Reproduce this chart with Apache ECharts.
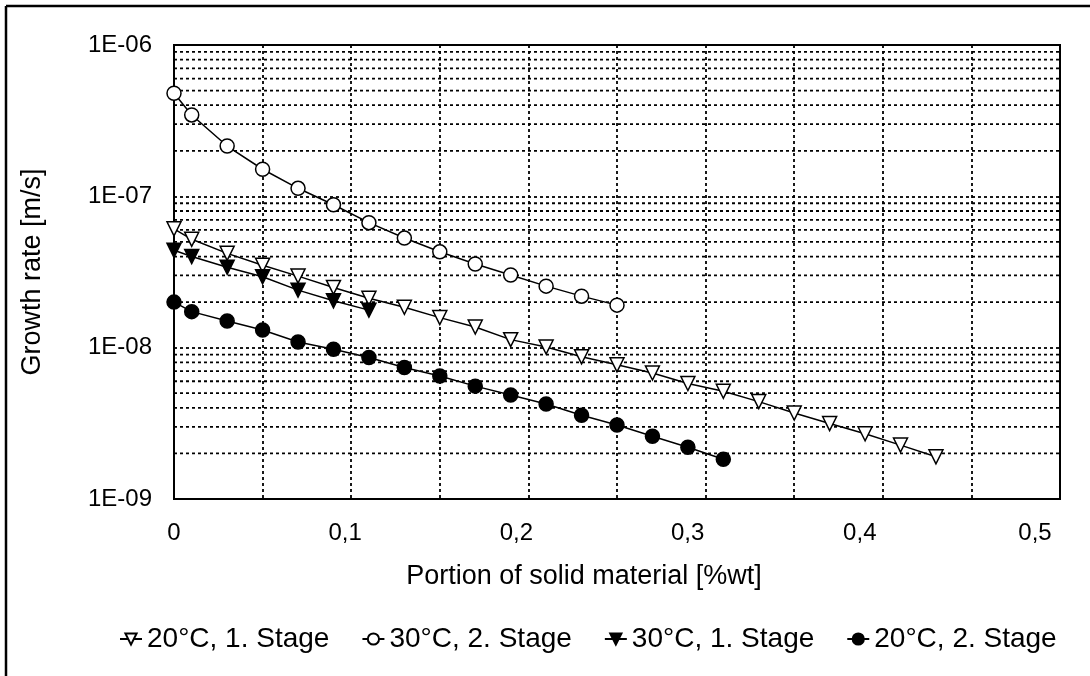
<!DOCTYPE html>
<html>
<head>
<meta charset="UTF-8">
<title>Growth rate</title>
<script src="https://cdn.jsdelivr.net/npm/echarts@6/dist/echarts.min.js"></script>
<style>
  html, body { margin: 0; padding: 0; background: #fff; }
</style>
</head>
<body>
<div id="chart" style="width: 1090px; height: 676px"></div>
<script>
    // portion of solid material [%wt]
    var xStage1_20 = [0, 0.01, 0.03, 0.05, 0.07, 0.09, 0.11, 0.13, 0.15, 0.17, 0.19, 0.21, 0.23, 0.25, 0.27, 0.29, 0.31, 0.33, 0.35, 0.37, 0.39, 0.41, 0.43];
    var yStage1_20 = [6.1e-8, 5.2e-8, 4.2e-8, 3.5e-8, 2.97e-8, 2.5e-8, 2.12e-8, 1.85e-8, 1.58e-8, 1.37e-8, 1.13e-8, 1.01e-8, 8.7e-9, 7.7e-9, 6.8e-9, 5.8e-9, 5.15e-9, 4.4e-9, 3.7e-9, 3.15e-9, 2.7e-9, 2.27e-9, 1.9e-9];

    var xStage2_30 = [0, 0.01, 0.03, 0.05, 0.07, 0.09, 0.11, 0.13, 0.15, 0.17, 0.19, 0.21, 0.23, 0.25];
    var yStage2_30 = [4.8e-7, 3.45e-7, 2.15e-7, 1.51e-7, 1.13e-7, 8.8e-8, 6.7e-8, 5.3e-8, 4.3e-8, 3.57e-8, 3.02e-8, 2.55e-8, 2.19e-8, 1.91e-8];

    var xStage1_30 = [0, 0.01, 0.03, 0.05, 0.07, 0.09, 0.11];
    var yStage1_30 = [4.4e-8, 4.0e-8, 3.4e-8, 2.94e-8, 2.4e-8, 2.04e-8, 1.77e-8];

    var xStage2_20 = [0, 0.01, 0.03, 0.05, 0.07, 0.09, 0.11, 0.13, 0.15, 0.17, 0.19, 0.21, 0.23, 0.25, 0.27, 0.29, 0.31];
    var yStage2_20 = [2.0e-8, 1.73e-8, 1.5e-8, 1.31e-8, 1.09e-8, 9.75e-9, 8.6e-9, 7.4e-9, 6.5e-9, 5.57e-9, 4.86e-9, 4.24e-9, 3.58e-9, 3.08e-9, 2.6e-9, 2.2e-9, 1.83e-9];

    var seriesNames = ['20°C, 1. Stage', '30°C, 2. Stage', '30°C, 1. Stage', '20°C, 2. Stage'];
    var xTickLabels = ['0', '0,1', '0,2', '0,3', '0,4', '0,5'];
    var yTickLabels = ['1E-09', '1E-08', '1E-07', '1E-06'];
    var decades = [1e-9, 1e-8, 1e-7];
    var minorSteps = [2, 3, 4, 5, 6, 7, 8, 9];
    var xRange = [0, 0.5];

    function pairs(xs, ys) {
        return xs.map(function (x, i) { return [x, ys[i]]; });
    }

    // minor log gridlines, one broken line across the plot per value
    var minorGrid = [];
    decades.forEach(function (d) {
        minorSteps.forEach(function (m) {
            minorGrid.push([xRange[0], d * m], [xRange[1], d * m], '-');
        });
    });

    var font = "'Liberation Sans', Arial, sans-serif";
    var gridLine = { color: '#000', width: 1.8, type: [3, 3] };

    // the original x labels drift a little left of their ticks
    var labelShift = [0, 12, 24, 36, 46, 50];
    var xRich = {};
    labelShift.forEach(function (p, i) {
        xRich['s' + i] = { fontFamily: font, fontSize: 24, color: '#000', padding: [0, p, 0, 0] };
    });

    function lineSeries(name, data, symbol, rotate, filled) {
        return {
            name: name,
            type: 'line',
            data: data,
            symbol: symbol,
            symbolSize: 14,
            symbolRotate: rotate,
            showAllSymbol: true,
            z: 3,
            lineStyle: { color: '#000', width: 1.5 },
            itemStyle: { color: filled ? '#000' : '#fff', borderColor: '#000', borderWidth: 1.5 },
            emphasis: { disabled: true },
            animation: false
        };
    }

    var chart = echarts.init(document.getElementById('chart'));
    chart.setOption({
        backgroundColor: '#fff',
        textStyle: { fontFamily: font, color: '#000' },
        graphic: [
            { type: 'line', shape: { x1: 6, y1: 6, x2: 1090, y2: 6 }, style: { stroke: '#000', lineWidth: 2.5 } },
            { type: 'line', shape: { x1: 6, y1: 6, x2: 6, y2: 676 }, style: { stroke: '#000', lineWidth: 2.5 } }
        ],
        grid: {
            left: 174, right: 30, top: 45, bottom: 177,
            show: true, borderColor: '#000', borderWidth: 2, backgroundColor: 'transparent'
        },
        legend: {
            data: seriesNames,
            left: 114,
            top: 620,
            itemWidth: 22,
            itemHeight: 14,
            itemGap: 32,
            textStyle: { fontFamily: font, fontSize: 28, color: '#000' }
        },
        xAxis: {
            type: 'value',
            min: xRange[0], max: xRange[1], interval: 0.1,
            name: 'Portion of solid material [%wt]',
            nameLocation: 'middle',
            nameGap: 64,
            nameTextStyle: { fontFamily: font, fontSize: 27, color: '#000', padding: [0, 66, 0, 0] },
            axisLine: { show: true, lineStyle: { color: '#000', width: 2 } },
            axisTick: { show: false },
            minorTick: { show: false, splitNumber: 2 },
            splitLine: { show: true, lineStyle: gridLine },
            minorSplitLine: { show: true, lineStyle: gridLine },
            axisLabel: {
                fontFamily: font, fontSize: 24, color: '#000', margin: 22,
                rich: xRich,
                formatter: function (v) {
                    var i = Math.round(v * 10);
                    return '{s' + i + '|' + xTickLabels[i] + '}';
                }
            }
        },
        yAxis: {
            type: 'log',
            logBase: 10,
            min: 1e-9, max: 1e-6,
            name: 'Growth rate [m/s]',
            nameLocation: 'middle',
            nameGap: 128,
            nameTextStyle: { fontFamily: font, fontSize: 27, color: '#000' },
            axisLine: { show: true, lineStyle: { color: '#000', width: 2 } },
            axisTick: { show: false },
            splitLine: { show: true, lineStyle: gridLine },
            axisLabel: {
                fontFamily: font, fontSize: 24, color: '#000', margin: 22,
                formatter: function (v) { return yTickLabels[Math.round(Math.log10(v)) + 9]; }
            }
        },
        series: [
            {
                name: 'minor grid',
                type: 'line',
                data: minorGrid,
                showSymbol: false,
                symbol: 'none',
                connectNulls: false,
                lineStyle: gridLine,
                z: 1,
                silent: true,
                animation: false
            },
            lineSeries(seriesNames[0], pairs(xStage1_20, yStage1_20), 'triangle', 180, false),
            lineSeries(seriesNames[1], pairs(xStage2_30, yStage2_30), 'circle', 0, false),
            lineSeries(seriesNames[2], pairs(xStage1_30, yStage1_30), 'triangle', 180, true),
            lineSeries(seriesNames[3], pairs(xStage2_20, yStage2_20), 'circle', 0, true)
        ]
    });
</script>
</body>
</html>
